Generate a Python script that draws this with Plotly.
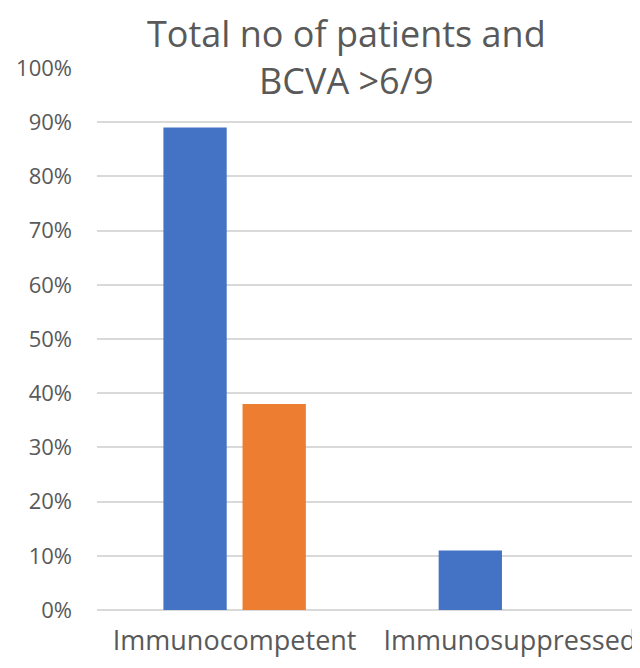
import plotly.graph_objects as go

categories = ["Immunocompetent", "Immunosuppressed"]
series1 = [0.89, 0.11]
series2 = [0.38, 0.0]
series1_name = "Series 1"
series2_name = "Series 2"
y_ticks = [0, 0.1, 0.2, 0.3, 0.4, 0.5, 0.6, 0.7, 0.8, 0.9, 1.0]
y_tick_labels = ["0%", "10%", "20%", "30%", "40%", "50%", "60%", "70%", "80%", "90%", "100%"]
title_lines = ["Total no of patients and", "BCVA >6/9"]

FONT = "Open Sans"
GRAY = "#595959"

fig = go.Figure()
fig.add_trace(go.Bar(x=categories, y=series1, name=series1_name,
                     marker=dict(color="#4472C4", line=dict(width=0))))
fig.add_trace(go.Bar(x=categories, y=series2, name=series2_name,
                     marker=dict(color="#ED7D31", line=dict(width=0))))

title_x = (346 - 97) / 543
annotations = []
for line, shift in zip(title_lines, [35, -12]):
    annotations.append(dict(
        text=line, xref="paper", yref="paper",
        x=title_x, y=1.0, yshift=shift,
        xanchor="center", yanchor="middle", showarrow=False,
        font=dict(family=FONT, size=36, color=GRAY),
    ))

fig.update_layout(
    width=632, height=660,
    margin=dict(l=89, r=0, t=60, b=58),
    paper_bgcolor="white", plot_bgcolor="white",
    barmode="group", bargap=0.425, bargroupgap=0.2,
    showlegend=False,
    font=dict(family=FONT, color=GRAY),
    annotations=annotations,
)
fig.update_xaxes(
    type="category", range=[-0.5, 1.4727],
    showgrid=False, showline=False, zeroline=False, ticks="",
    ticklabelstandoff=12,
    tickfont=dict(family=FONT, size=27, color=GRAY),
)
fig.update_yaxes(
    range=[0, 1.0], tickvals=y_ticks, ticktext=y_tick_labels,
    showgrid=True, gridcolor="#D9D9D9", gridwidth=1.5,
    zeroline=True, zerolinecolor="#D9D9D9", zerolinewidth=1.5,
    showline=False, ticks="", ticklabelstandoff=24,
    tickfont=dict(family=FONT, size=22, color=GRAY),
)

fig.write_html("out.html")
